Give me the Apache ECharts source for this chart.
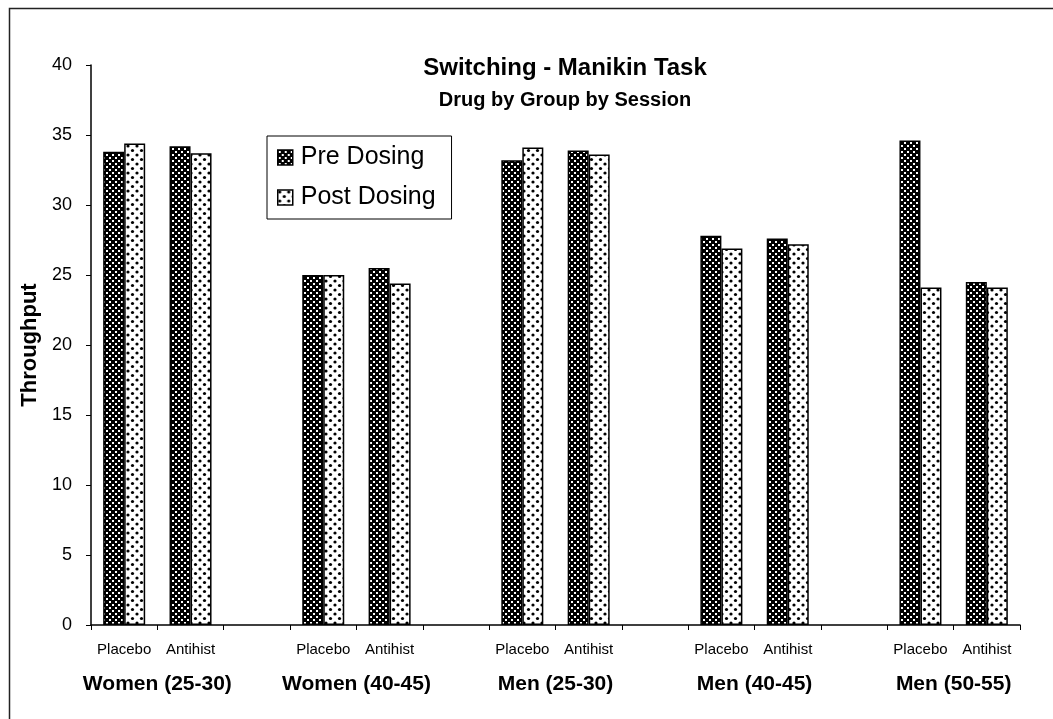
<!DOCTYPE html>
<html>
<head>
<meta charset="utf-8">
<script src="https://cdn.jsdelivr.net/npm/echarts@6/dist/echarts.min.js"></script>
<style>
  html, body { margin: 0; padding: 0; background: #fff; }
  #chart { width: 1053px; height: 719px; }
</style>
</head>
<body>
<div id="chart"></div>
<script>
// data
var conditions = ['Placebo', 'Antihist', '', 'Placebo', 'Antihist', '', 'Placebo', 'Antihist', '', 'Placebo', 'Antihist', '', 'Placebo', 'Antihist'];
var groups = ['Women (25-30)', 'Women (40-45)', 'Men (25-30)', 'Men (40-45)', 'Men (50-55)'];
var groupTicks = [1, 4, 7, 10, 13]; // boundary under each group's pair of bars
var preDosing = [33.8, 34.2, null, 25.0, 25.5, null, 33.2, 33.9, null, 27.8, 27.6, null, 34.6, 24.5];
var postDosing = [34.4, 33.7, null, 25.0, 24.4, null, 34.1, 33.6, null, 26.9, 27.2, null, 24.1, 24.1];
var yTicks = [0, 5, 10, 15, 20, 25, 30, 35, 40];

var FONT = 'Liberation Sans, Arial, sans-serif';

// halftone fills like the scanned original
function darkDots() {
    var c = document.createElement('canvas');
    c.width = 6; c.height = 6;
    var g = c.getContext('2d');
    g.fillStyle = '#000';
    g.fillRect(0, 0, 6, 6);
    g.fillStyle = '#fff';
    g.fillRect(1, 1, 2, 2);
    g.fillRect(4, 4, 2, 2);
    return c;
}
function lightDots() {
    var c = document.createElement('canvas');
    c.width = 9; c.height = 9;
    var g = c.getContext('2d');
    g.fillStyle = '#fff';
    g.fillRect(0, 0, 9, 9);
    g.fillStyle = '#000';
    g.beginPath(); g.arc(2, 2, 1.6, 0, Math.PI * 2); g.fill();
    g.beginPath(); g.arc(6.5, 6.5, 1.6, 0, Math.PI * 2); g.fill();
    return c;
}

var myChart = echarts.init(document.getElementById('chart'), null, { renderer: 'canvas' });

var groupByTick = {};
for (var i = 0; i < groupTicks.length; i++) {
    groupByTick[groupTicks[i]] = groups[i];
}

myChart.setOption({
    animation: false,
    backgroundColor: '#fff',
    textStyle: { fontFamily: FONT, color: '#000' },
    graphic: [{
        type: 'rect',
        left: 7, top: 6,
        shape: { width: 1200, height: 900 },
        style: { fill: 'none', stroke: '#222', lineWidth: 1.5 },
        silent: true
    }],
    title: [{
        text: 'Switching - Manikin Task',
        left: 560, top: 51,
        textAlign: 'center',
        textStyle: { fontFamily: FONT, fontSize: 24, fontWeight: 'bold', color: '#000' }
    }, {
        text: 'Drug by Group by Session',
        left: 560, top: 85,
        textAlign: 'center',
        textStyle: { fontFamily: FONT, fontSize: 20, fontWeight: 'bold', color: '#000' }
    }],
    legend: {
        orient: 'vertical',
        left: 267, top: 136,
        data: ['Pre Dosing', 'Post Dosing'],
        icon: 'rect',
        backgroundColor: '#fff',
        borderColor: '#000',
        borderWidth: 1,
        padding: [9, 16, 9, 10],
        itemWidth: 15,
        itemHeight: 15,
        itemGap: 15,
        itemStyle: { borderColor: '#000', borderWidth: 1.5 },
        textStyle: { fontFamily: FONT, fontSize: 25, color: '#000', padding: [0, 0, 0, 3] }
    },
    grid: { left: 91, right: 33, top: 65, bottom: 94 },
    xAxis: [{
        type: 'category',
        data: conditions,
        axisLine: { lineStyle: { color: '#000', width: 1.5 } },
        axisTick: { show: true, length: 5, lineStyle: { color: '#000' } },
        axisLabel: { interval: 0, margin: 17, fontFamily: FONT, fontSize: 15, color: '#000' }
    }, {
        type: 'value',
        position: 'bottom',
        min: 0, max: 14, interval: 1,
        axisLine: { show: false },
        axisTick: { show: false },
        splitLine: { show: false },
        axisLabel: {
            margin: 49,
            fontFamily: FONT, fontSize: 21, fontWeight: 'bold', color: '#000',
            formatter: function (v) { return groupByTick[v] || ''; }
        }
    }],
    yAxis: {
        type: 'value',
        min: 0, max: 40, interval: 5,
        name: 'Throughput',
        nameLocation: 'middle',
        nameRotate: 90,
        nameGap: 44,
        nameTextStyle: { fontFamily: FONT, fontSize: 22, fontWeight: 'bold', color: '#000' },
        axisLine: { show: true, lineStyle: { color: '#000', width: 1.5 } },
        axisTick: { show: true, length: 5, lineStyle: { color: '#000' } },
        splitLine: { show: false },
        axisLabel: {
            margin: 19, fontFamily: FONT, fontSize: 18, color: '#000',
            formatter: function (v) { return yTicks.indexOf(v) >= 0 ? String(v) : ''; }
        }
    },
    series: [{
        name: 'Pre Dosing',
        type: 'bar',
        data: preDosing,
        barWidth: 21,
        barGap: '0%',
        itemStyle: { color: { image: darkDots(), repeat: 'repeat' }, borderColor: '#000', borderWidth: 1.5 }
    }, {
        name: 'Post Dosing',
        type: 'bar',
        data: postDosing,
        barWidth: 21,
        itemStyle: { color: { image: lightDots(), repeat: 'repeat' }, borderColor: '#000', borderWidth: 1.5 }
    }]
});
</script>
</body>
</html>
